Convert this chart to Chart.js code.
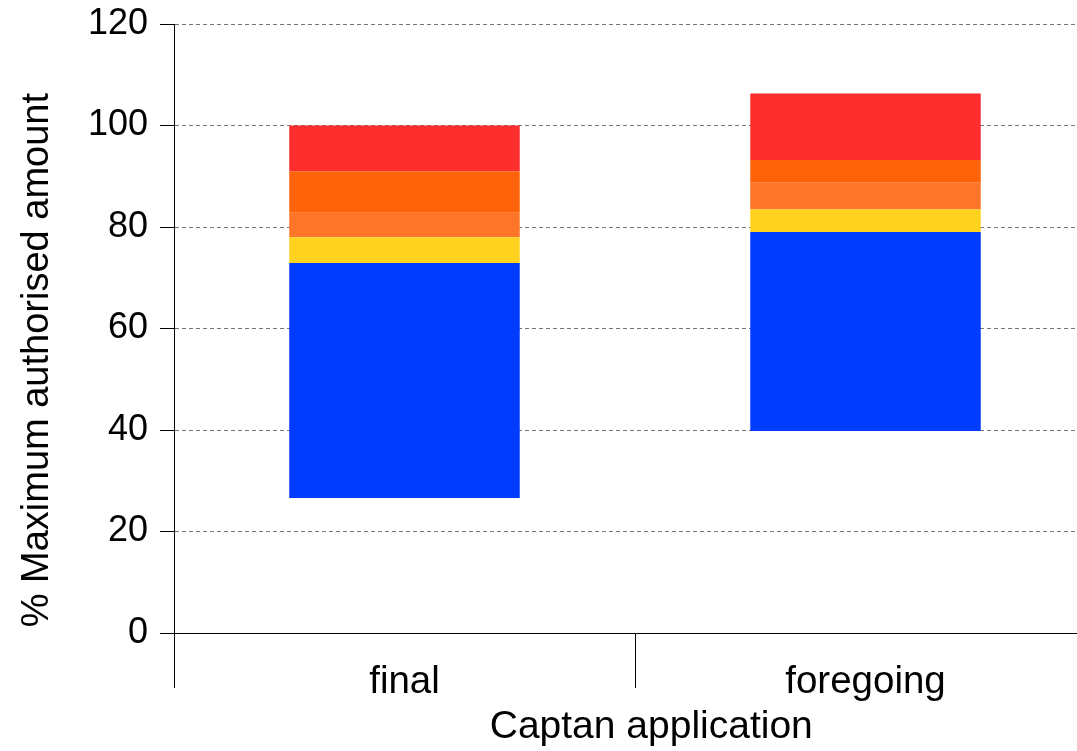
<!DOCTYPE html>
<html>
<head>
<meta charset="utf-8">
<script src="https://cdn.jsdelivr.net/npm/chart.js@4.4.0/dist/chart.umd.min.js"></script>
<style>
  html, body { margin: 0; padding: 0; background: #fff; overflow: hidden; }
  #wrap { width: 1077px; height: 751px; overflow: hidden; }
  canvas { display: block; }
</style>
</head>
<body>
<div id="wrap"><canvas id="chart" width="1100" height="751"></canvas></div>
<script>
// Categorias del eje x
const categories = ['final', 'foregoing'];

// Limites de cada tramo de la barra (en % de la cantidad maxima)
const barBottom   = [26.6, 39.8];
const blueTop     = [72.9, 79.0];
const yellowTop   = [78.0, 83.5];
const orangeTop   = [82.8, 88.7];
const darkOrgTop  = [91.0, 93.2];
const redTop      = [100.0, 106.3];

// Ticks del eje y
const yTicks = [0, 20, 40, 60, 80, 100, 120];

const colors = {
    blue: '#003cff',
    yellow: '#ffd21e',
    orange: '#ff7628',
    darkOrange: '#ff630a',
    red: '#ff2e2e'
};

// Construye pares [inicio, fin] para barras flotantes
function span(lo, hi) {
    return lo.map((v, i) => [v, hi[i]]);
}

const segments = [
    { from: barBottom,  to: blueTop,    color: colors.blue },
    { from: blueTop,    to: yellowTop,  color: colors.yellow },
    { from: yellowTop,  to: orangeTop,  color: colors.orange },
    { from: orangeTop,  to: darkOrgTop, color: colors.darkOrange },
    { from: darkOrgTop, to: redTop,     color: colors.red }
];

const font = "'Liberation Sans', Arial, sans-serif";

new Chart(document.getElementById('chart'), {
    type: 'bar',
    data: {
        labels: categories,
        datasets: segments.map(s => ({
            data: span(s.from, s.to),
            backgroundColor: s.color,
            borderWidth: 0,
            grouped: false,
            barPercentage: 0.5,
            categoryPercentage: 1
        }))
    },
    options: {
        responsive: false,
        animation: false,
        devicePixelRatio: 1,
        layout: { padding: { top: 24, right: 4, left: 0, bottom: 0 } },
        plugins: { legend: { display: false }, tooltip: { enabled: false } },
        scales: {
            x: {
                grid: {
                    display: true,
                    drawOnChartArea: false,
                    drawTicks: true,
                    tickLength: 55,
                    color: '#000',
                    lineWidth: 1
                },
                border: { display: true, color: '#000', width: 1 },
                ticks: {
                    color: '#000',
                    font: { family: font, size: 38.5 },
                    padding: -29
                },
                title: {
                    display: true,
                    // espacios al inicio para mover el titulo a la derecha
                    text: '   Captan application',
                    color: '#000',
                    font: { family: font, size: 39, lineHeight: 1.2 },
                    padding: { top: 0, bottom: 0 }
                },
                afterFit: scale => { scale.height = 118; }
            },
            y: {
                min: 0,
                max: 120,
                afterBuildTicks: scale => { scale.ticks = yTicks.map(v => ({ value: v })); },
                grid: {
                    color: '#777',
                    tickColor: '#000',
                    tickLength: 14,
                    lineWidth: 1,
                    tickBorderDash: []
                },
                border: { display: true, color: '#000', width: 1, dash: [4, 3] },
                ticks: {
                    color: '#000',
                    // lineHeight bajo para que la etiqueta 120 no empuje el area hacia abajo
                    font: { family: font, size: 36, lineHeight: 0.6 },
                    padding: 12
                },
                title: {
                    display: true,
                    // espacios al final para bajar el centro del titulo
                    text: '% Maximum authorised amount      ',
                    color: '#000',
                    font: { family: font, size: 38, lineHeight: 1.2 },
                    padding: { top: 15, bottom: 0 }
                },
                afterFit: scale => { scale.width = 174; }
            }
        }
    }
});
</script>
</body>
</html>
